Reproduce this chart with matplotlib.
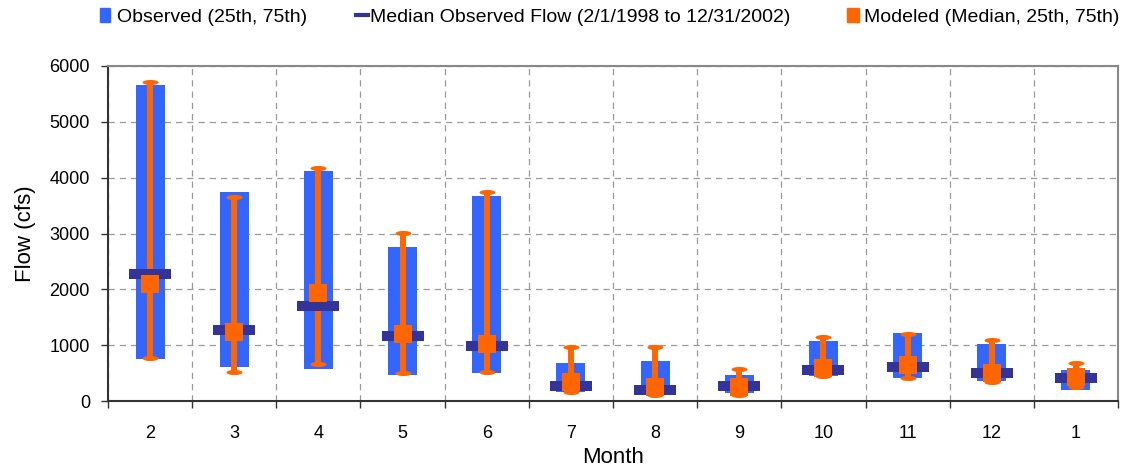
import matplotlib.pyplot as plt
import numpy as np
from matplotlib.lines import Line2D
from matplotlib.patches import Patch

plt.rcParams['font.family'] = ['Liberation Sans', 'DejaVu Sans']

months = ['2', '3', '4', '5', '6', '7', '8', '9', '10', '11', '12', '1']

# observed 25th / 75th percentile and median
obs_25 = [750, 615, 580, 470, 500, 155, 150, 140, 440, 420, 350, 190]
obs_75 = [5665, 3740, 4120, 2750, 3670, 685, 720, 470, 1075, 1220, 1025, 555]
obs_med = [2275, 1280, 1710, 1160, 985, 275, 195, 260, 560, 605, 510, 410]

# modeled median, 25th, 75th
mod_med = [2100, 1230, 1940, 1205, 1020, 335, 245, 245, 600, 640, 505, 425]
mod_25 = [765, 525, 655, 510, 525, 155, 100, 100, 440, 410, 340, 255]
mod_75 = [5710, 3650, 4180, 3010, 3745, 960, 970, 580, 1145, 1200, 1085, 675]

blue = '#3366FF'
navy = '#333399'
orange = '#FF6600'

x = np.arange(len(months))

fig = plt.figure(figsize=(11.26, 4.76), dpi=100)
ax = fig.add_axes([108/1126, 75/476, 1010/1126, 335/476])

ax.bar(x, np.array(obs_75) - np.array(obs_25), bottom=obs_25, width=0.345,
       color=blue, zorder=2)

# modeled whiskers with rounded caps
ax.vlines(x, mod_25, mod_75, color=orange, linewidth=4.3, zorder=3)
t = np.linspace(0, 2*np.pi, 40)
cap = np.column_stack([np.cos(t), 0.32*np.sin(t)])
ax.plot(x, mod_75, linestyle='none', marker=cap, markersize=11.5,
        color=orange, markeredgewidth=0, zorder=3)
ax.plot(x, mod_25, linestyle='none', marker=cap, markersize=11.5,
        color=orange, markeredgewidth=0, zorder=3)

bar_mark = [(-1, -0.22), (1, -0.22), (1, 0.22), (-1, 0.22), (-1, -0.22)]
ax.plot(x, obs_med, linestyle='none', marker=bar_mark, markersize=30.5,
        color=navy, markeredgewidth=0, zorder=4)
ax.plot(x, mod_med, linestyle='none', marker='s', markersize=13,
        color=orange, markeredgewidth=0, zorder=5)

ax.set_xlim(-0.5, len(months) - 0.5)
ax.set_ylim(0, 6000)
ax.set_yticks(np.arange(0, 6001, 1000))
ax.set_xticks(x)
ax.set_xticklabels(months)
ax.set_xticks(np.arange(-0.5, len(months)), minor=True)
ax.tick_params(axis='x', which='major', length=0, pad=17, labelsize=13)
ax.tick_params(axis='x', which='minor', length=5, width=1, color='#333333')
ax.tick_params(axis='y', length=5, width=1, color='#333333', labelsize=13, pad=8)

ax.grid(axis='y', which='major', color='#999999', linestyle=(0, (5, 4)), linewidth=0.9)
ax.grid(axis='x', which='minor', color='#999999', linestyle=(0, (5, 4)), linewidth=0.9)
ax.set_axisbelow(True)

for s in ['left', 'bottom']:
    ax.spines[s].set_color('#333333')
    ax.spines[s].set_linewidth(1.5)
for s in ['top', 'right']:
    ax.spines[s].set_color('#888888')
    ax.spines[s].set_linewidth(1.5)

ax.set_xlabel('Month', fontsize=16, labelpad=4)
ax.set_ylabel('Flow (cfs)', fontsize=16, labelpad=10)

# legend entries placed like the excel one
leg_kw = dict(frameon=False, fontsize=14, handleheight=0.7,
              borderpad=0, borderaxespad=0, loc='center left')
ly = 1 - 17/476
fig.legend([Patch(color=blue)], ['Observed (25th, 75th)'],
           bbox_to_anchor=(100/1126, ly), handlelength=0.5, handletextpad=0.35, **leg_kw)
fig.legend([Line2D([0], [0], color=navy, linewidth=3)],
           ['Median Observed Flow (2/1/1998 to 12/31/2002)'],
           bbox_to_anchor=(356/1126, ly), handlelength=0.62, handletextpad=0.1, **leg_kw)
fig.legend([Patch(color=orange)], ['Modeled (Median, 25th, 75th)'],
           bbox_to_anchor=(847/1126, ly), handlelength=0.6, handletextpad=0.25, **leg_kw)

plt.savefig('out.png', dpi=100)
